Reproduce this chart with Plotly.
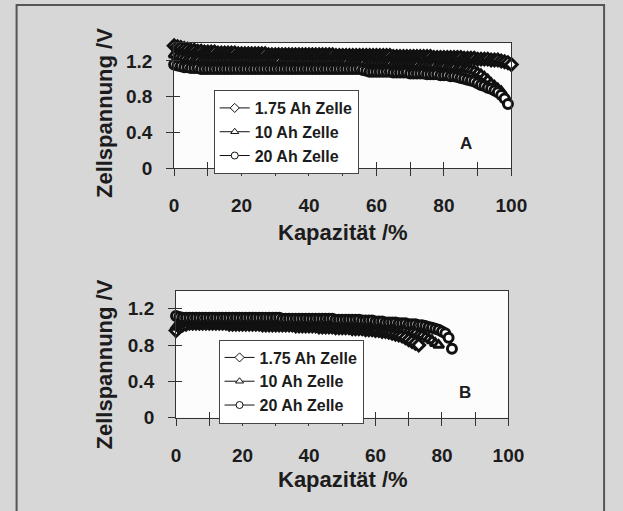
import plotly.graph_objects as go

# ---------------- data (one reading per 1 % capacity) ----------------
series_names = ["1.75 Ah Zelle", "10 Ah Zelle", "20 Ah Zelle"]
series_symbols = ["diamond", "triangle-up", "circle"]

# Panel A
A_y_175 = [1.37, 1.36, 1.35, 1.34, 1.33, 1.32, 1.32, 1.31, 1.31, 1.30,
           1.30, 1.30, 1.30, 1.29, 1.29, 1.29, 1.29, 1.29, 1.29, 1.28,
           1.28, 1.28, 1.28, 1.28, 1.28, 1.28, 1.28, 1.28, 1.27, 1.27,
           1.27, 1.27, 1.27, 1.27, 1.27, 1.27, 1.27, 1.27, 1.27, 1.27,
           1.27, 1.27, 1.27, 1.27, 1.27, 1.27, 1.27, 1.27, 1.26, 1.26,
           1.26, 1.26, 1.26, 1.26, 1.26, 1.26, 1.26, 1.26, 1.26, 1.26,
           1.26, 1.26, 1.26, 1.26, 1.26, 1.25, 1.25, 1.25, 1.25, 1.25,
           1.25, 1.25, 1.25, 1.25, 1.25, 1.25, 1.25, 1.24, 1.24, 1.24,
           1.24, 1.24, 1.24, 1.24, 1.24, 1.24, 1.23, 1.23, 1.23, 1.23,
           1.22, 1.22, 1.22, 1.22, 1.21, 1.21, 1.21, 1.20, 1.19, 1.18,
           1.16]
A_y_10 = [1.27, 1.25, 1.24, 1.23, 1.22, 1.22, 1.21, 1.21, 1.20, 1.20,
          1.20, 1.20, 1.20, 1.20, 1.20, 1.20, 1.20, 1.20, 1.20, 1.20,
          1.20, 1.20, 1.20, 1.20, 1.20, 1.20, 1.20, 1.20, 1.20, 1.20,
          1.20, 1.20, 1.19, 1.19, 1.19, 1.19, 1.19, 1.19, 1.19, 1.19,
          1.19, 1.19, 1.19, 1.19, 1.19, 1.19, 1.19, 1.19, 1.19, 1.19,
          1.19, 1.19, 1.18, 1.18, 1.18, 1.18, 1.18, 1.17, 1.17, 1.17,
          1.17, 1.17, 1.17, 1.17, 1.17, 1.16, 1.16, 1.16, 1.16, 1.16,
          1.16, 1.16, 1.16, 1.15, 1.15, 1.15, 1.15, 1.15, 1.14, 1.14,
          1.14, 1.13, 1.13, 1.13, 1.12, 1.12, 1.11, 1.11, 1.10, 1.09,
          1.07, 1.05, 1.02, 0.99, 0.95, 0.92, 0.89, 0.86, 0.80]
A_y_20 = [1.16, 1.15, 1.14, 1.13, 1.13, 1.12, 1.12, 1.12, 1.11, 1.11,
          1.11, 1.11, 1.11, 1.11, 1.11, 1.11, 1.11, 1.11, 1.11, 1.11,
          1.11, 1.11, 1.11, 1.11, 1.11, 1.11, 1.11, 1.11, 1.11, 1.11,
          1.11, 1.11, 1.11, 1.11, 1.11, 1.11, 1.11, 1.11, 1.11, 1.11,
          1.11, 1.11, 1.11, 1.11, 1.11, 1.11, 1.11, 1.11, 1.11, 1.11,
          1.11, 1.11, 1.11, 1.11, 1.11, 1.11, 1.10, 1.09, 1.08, 1.08,
          1.08, 1.08, 1.08, 1.08, 1.08, 1.07, 1.07, 1.07, 1.07, 1.07,
          1.06, 1.06, 1.06, 1.06, 1.06, 1.05, 1.05, 1.05, 1.05, 1.04,
          1.04, 1.04, 1.03, 1.03, 1.02, 1.01, 1.00, 0.99, 0.98, 0.97,
          0.95, 0.93, 0.92, 0.90, 0.89, 0.87, 0.85, 0.82, 0.78, 0.72]

# Panel B
B_y_175 = [0.96, 1.00, 1.02, 1.03, 1.04, 1.04, 1.04, 1.04, 1.04, 1.04,
           1.04, 1.04, 1.04, 1.04, 1.04, 1.04, 1.03, 1.03, 1.03, 1.03,
           1.03, 1.03, 1.03, 1.03, 1.03, 1.03, 1.02, 1.02, 1.02, 1.02,
           1.02, 1.02, 1.02, 1.02, 1.02, 1.02, 1.01, 1.01, 1.01, 1.01,
           1.01, 1.01, 1.01, 1.00, 1.00, 1.00, 1.00, 1.00, 0.99, 0.99,
           0.99, 0.99, 0.99, 0.98, 0.98, 0.98, 0.98, 0.97, 0.97, 0.97,
           0.96, 0.96, 0.95, 0.95, 0.94, 0.93, 0.92, 0.91, 0.90, 0.88,
           0.86, 0.84, 0.82, 0.80]
B_y_10 = [1.00, 1.03, 1.05, 1.06, 1.07, 1.07, 1.07, 1.07, 1.07, 1.07,
          1.07, 1.07, 1.07, 1.07, 1.07, 1.07, 1.07, 1.07, 1.07, 1.07,
          1.07, 1.07, 1.07, 1.07, 1.06, 1.06, 1.06, 1.06, 1.06, 1.06,
          1.06, 1.06, 1.06, 1.06, 1.06, 1.06, 1.05, 1.05, 1.05, 1.05,
          1.05, 1.05, 1.05, 1.04, 1.04, 1.04, 1.04, 1.04, 1.03, 1.03,
          1.03, 1.03, 1.03, 1.03, 1.02, 1.02, 1.02, 1.02, 1.01, 1.01,
          1.01, 1.01, 1.00, 1.00, 0.99, 0.99, 0.98, 0.98, 0.97, 0.97,
          0.96, 0.95, 0.94, 0.92, 0.91, 0.89, 0.87, 0.85, 0.82, 0.80]
B_y_20 = [1.12, 1.11, 1.10, 1.10, 1.10, 1.10, 1.10, 1.10, 1.10, 1.10,
          1.10, 1.10, 1.10, 1.10, 1.10, 1.10, 1.10, 1.10, 1.10, 1.10,
          1.10, 1.10, 1.10, 1.10, 1.10, 1.10, 1.10, 1.10, 1.10, 1.10,
          1.10, 1.10, 1.09, 1.09, 1.09, 1.09, 1.09, 1.09, 1.09, 1.09,
          1.09, 1.09, 1.09, 1.09, 1.09, 1.09, 1.09, 1.09, 1.08, 1.08,
          1.08, 1.08, 1.08, 1.08, 1.08, 1.08, 1.07, 1.07, 1.07, 1.07,
          1.06, 1.06, 1.06, 1.05, 1.05, 1.05, 1.05, 1.04, 1.04, 1.04,
          1.03, 1.03, 1.03, 1.02, 1.02, 1.01, 1.00, 0.99, 0.98, 0.97,
          0.95, 0.93, 0.88, 0.76]

# capacity (%) at which each reading above was taken: 0, 1, 2, ... in steps of 1 %
A_x_175 = list(range(len(A_y_175)))
A_x_10 = list(range(len(A_y_10)))
A_x_20 = list(range(len(A_y_20)))
B_x_175 = list(range(len(B_y_175)))
B_x_10 = list(range(len(B_y_10)))
B_x_20 = list(range(len(B_y_20)))

x_ticks = [0, 20, 40, 60, 80, 100]
y_ticks = [0, 0.4, 0.8, 1.2]
y_ticktext = ["0", "0.4", "0.8", "1.2"]
x_title = "Kapazität /%"
y_title = "Zellspannung /V"
panel_labels = ["A", "B"]

# ---------------- figure ----------------
W, H = 623, 511
FONT = "Liberation Sans, Arial, sans-serif"
INK = "#1c1c1c"
MARK = "#111111"


def px(v):
    return v / W


def py(v):
    return 1 - v / H


fig = go.Figure()

panels = [
    ([(A_x_175, A_y_175), (A_x_10, A_y_10), (A_x_20, A_y_20)], "x", "y", "legend"),
    ([(B_x_175, B_y_175), (B_x_10, B_y_10), (B_x_20, B_y_20)], "x2", "y2", "legend2"),
]
for data, xa, ya, lg in panels:
    # measured curves: densely sampled hollow markers that merge into dark bands
    for (xs, ys), name, sym in zip(data, series_names, series_symbols):
        fig.add_trace(go.Scatter(
            x=xs, y=ys, name=name, mode="lines+markers",
            xaxis=xa, yaxis=ya, showlegend=False, cliponaxis=False,
            line=dict(color=MARK, width=3),
            marker=dict(symbol=sym, size=9, color="white",
                        line=dict(color=MARK, width=3)),
        ))
    # legend keys (no data), drawn with thin outlines as in the original key
    for name, sym in zip(series_names, series_symbols):
        fig.add_trace(go.Scatter(
            x=[None], y=[None], name=name, mode="lines+markers",
            xaxis=xa, yaxis=ya, legend=lg, showlegend=True,
            line=dict(color=MARK, width=1),
            marker=dict(symbol=sym, size=7, color="white",
                        line=dict(color=MARK, width=1)),
        ))

# empty traces for overlay axes giving crossing ticks
fig.add_trace(go.Scatter(x=[], y=[], xaxis="x3", yaxis="y3", showlegend=False))
fig.add_trace(go.Scatter(x=[], y=[], xaxis="x4", yaxis="y4", showlegend=False))

tickfont = dict(family=FONT, size=19, color=INK, weight="bold")

dom = {
    "A": dict(x=[px(175), px(524)], y=[py(172), py(44)]),
    "B": dict(x=[px(177), px(521)], y=[py(427), py(297)]),
}


def xaxis(domain, anchor):
    return dict(domain=domain, anchor=anchor, range=[0, 100], tickvals=x_ticks,
                ticks="outside", ticklen=7, tickwidth=1, tickcolor="#333",
                minor=dict(dtick=10, ticks="outside", ticklen=7, tickcolor="#333"),
                showline=True, linecolor="#333", linewidth=1, mirror=True,
                showgrid=False, zeroline=False, tickfont=tickfont,
                ticklabelstandoff=13)


def yaxis(domain, anchor):
    return dict(domain=domain, anchor=anchor, range=[0, 1.4], tickvals=y_ticks,
                ticktext=y_ticktext,
                ticks="outside", ticklen=7, tickwidth=1, tickcolor="#333",
                showline=True, linecolor="#333", linewidth=1, mirror=True,
                showgrid=False, zeroline=False, tickfont=tickfont,
                ticklabelstandoff=10)


def xover(over, anchor):
    return dict(overlaying=over, anchor=anchor, range=[0, 100], dtick=10,
                ticks="inside", ticklen=6, tickcolor="#333",
                showticklabels=False, showline=False, showgrid=False, zeroline=False)


def yover(over, anchor):
    return dict(overlaying=over, anchor=anchor, range=[0, 1.4], tickvals=y_ticks,
                ticks="inside", ticklen=6, tickcolor="#333",
                showticklabels=False, showline=False, showgrid=False, zeroline=False)


legend_font = dict(family=FONT, size=16, color=INK, weight="bold")

fig.update_layout(
    width=W, height=H,
    margin=dict(l=0, r=0, t=0, b=0),
    paper_bgcolor="#d7d7d7",
    plot_bgcolor="#fcfcfc",
    font=dict(family=FONT, color=INK),
    xaxis=xaxis(dom["A"]["x"], "y"),
    yaxis=yaxis(dom["A"]["y"], "x"),
    xaxis2=xaxis(dom["B"]["x"], "y2"),
    yaxis2=yaxis(dom["B"]["y"], "x2"),
    xaxis3=xover("x", "y"),
    yaxis3=yover("y", "x"),
    xaxis4=xover("x2", "y2"),
    yaxis4=yover("y2", "x2"),
    legend=dict(x=px(216), y=py(92), xanchor="left", yanchor="top",
                bgcolor="white", bordercolor="#444", borderwidth=1,
                font=legend_font, itemwidth=30, tracegroupgap=0),
    legend2=dict(x=px(221), y=py(347), xanchor="left", yanchor="top",
                 bgcolor="white", bordercolor="#444", borderwidth=1,
                 font=legend_font, itemwidth=30, tracegroupgap=0),
    showlegend=True,
)

title_font = dict(family=FONT, size=22, color=INK, weight="bold")
ann = []
for (cx, cy_x, cy_y, cx_y, lab, lx, ly) in [
    (350, 238, 116, 103, panel_labels[0], 477, 147),
    (350, 490, 373, 103, panel_labels[1], 476, 401),
]:
    ann.append(dict(text=x_title, x=px(cx), y=py(cy_x), xref="paper", yref="paper",
                    showarrow=False, font=title_font, xanchor="center", yanchor="middle"))
    ann.append(dict(text=y_title, x=px(cx_y), y=py(cy_y), xref="paper", yref="paper",
                    showarrow=False, font=title_font, textangle=-90,
                    xanchor="center", yanchor="middle"))
    ann.append(dict(text=lab, x=px(lx), y=py(ly), xref="paper", yref="paper",
                    showarrow=False, font=dict(family=FONT, size=17, color=INK, weight="bold"),
                    xanchor="center", yanchor="middle"))
fig.update_layout(annotations=ann)

fig.add_shape(type="rect", xref="paper", yref="paper",
              x0=px(12), x1=px(620), y0=-0.05, y1=py(5),
              line=dict(color="#555", width=2), fillcolor="rgba(0,0,0,0)")

fig.write_html("out.html")
